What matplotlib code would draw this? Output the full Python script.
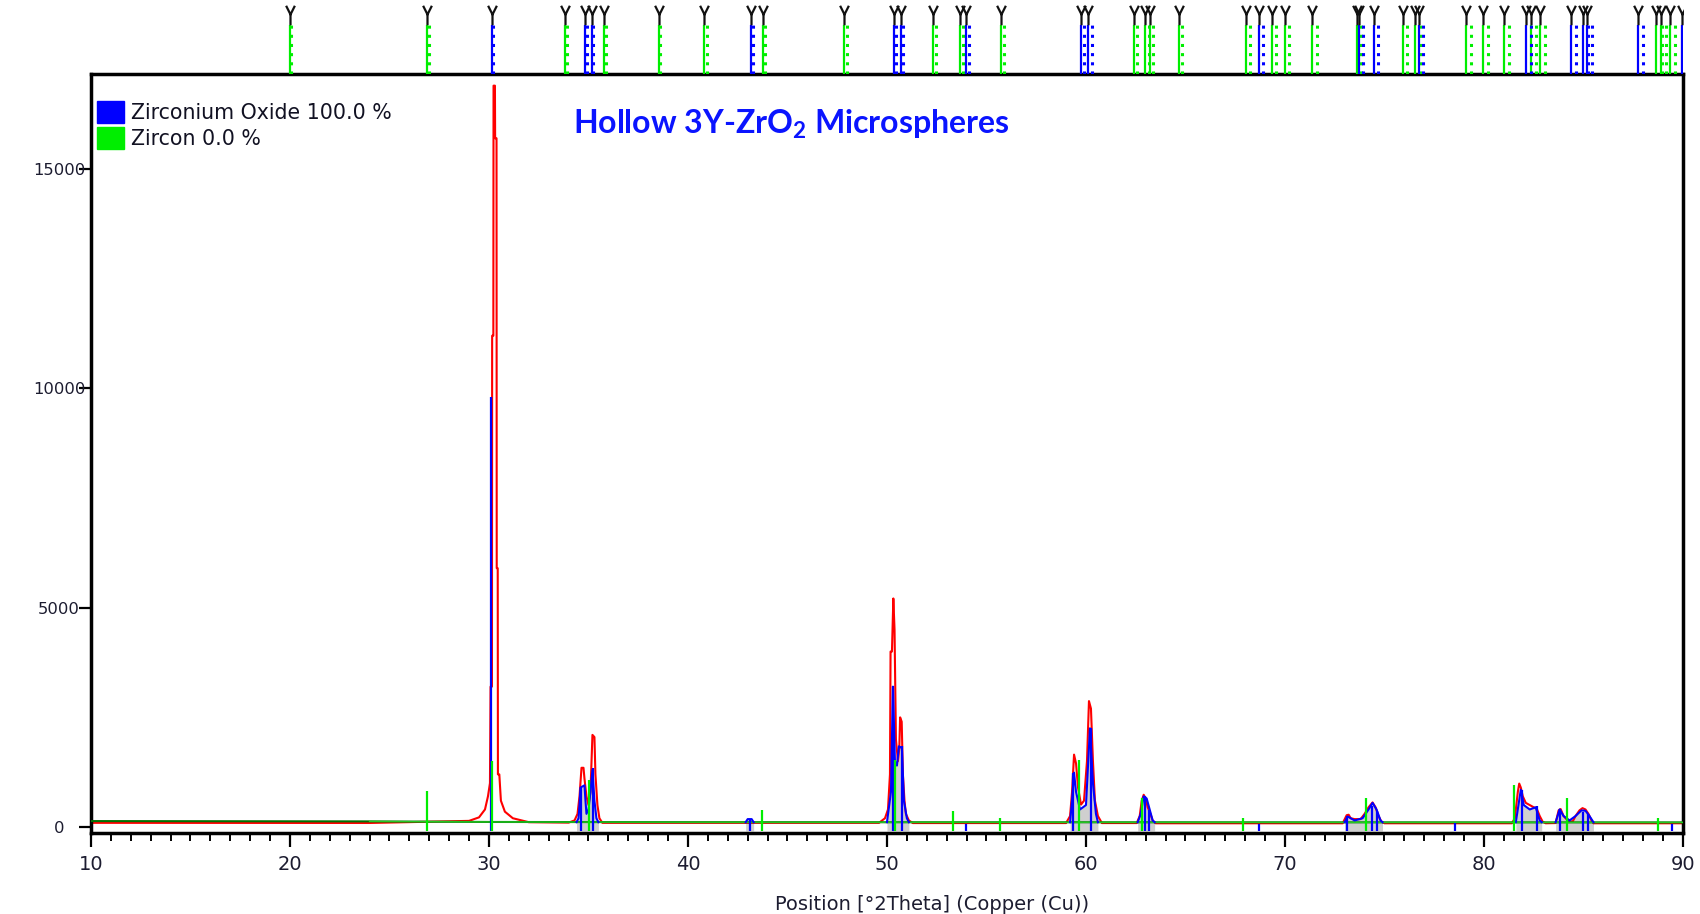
import numpy as np
import matplotlib
matplotlib.use("Agg")
import matplotlib.pyplot as plt
from matplotlib.path import Path
from matplotlib.ticker import MultipleLocator

plt.rcParams['mathtext.fontset'] = 'custom'
plt.rcParams['mathtext.rm'] = 'Lato'
plt.rcParams['mathtext.bf'] = 'Lato:bold'

# observed pattern (red), 2theta / counts
obs_tt = [10, 24, 29.0, 29.5, 29.8, 29.95, 30.05, 30.08, 30.15, 30.16, 30.22, 30.23, 30.3,
          30.31, 30.38, 30.39, 30.44, 30.45, 30.52, 30.6, 30.8, 31.2, 32, 34.0, 34.3, 34.45,
          34.55, 34.65, 34.75, 34.8, 34.9, 35.0, 35.1, 35.2, 35.3, 35.35, 35.45, 35.55, 35.7,
          49.6, 49.9, 50.05, 50.15, 50.18, 50.25, 50.32, 50.38, 50.45, 50.55, 50.62, 50.66,
          50.74, 50.8, 50.88, 50.95, 51.1, 51.3,
          59.0, 59.2, 59.3, 59.4, 59.5, 59.6, 59.75, 59.9, 60.05, 60.15, 60.25, 60.35, 60.45,
          60.6, 60.8,
          62.55, 62.7, 62.8, 62.9, 63.0, 63.1, 63.2, 63.35, 63.5,
          72.9, 73.1, 73.2, 73.3, 73.5, 73.8, 74.0, 74.2, 74.4, 74.55, 74.7, 74.85, 75.0,
          81.4, 81.55, 81.7, 81.77, 81.85, 81.95, 82.1, 82.3, 82.5, 82.65, 82.8, 82.95, 83.1,
          83.6, 83.75, 83.85, 84.0, 84.2, 84.45, 84.6, 84.8, 84.95, 85.1, 85.25, 85.4, 85.5, 90]
obs_cts = [95, 92, 140, 220, 400, 700, 1000, 3200, 3200, 11200, 11200, 16900, 16900,
           15700, 15700, 5900, 5900, 1200, 1200, 600, 350, 200, 110, 100, 150, 300,
           700, 1350, 1350, 1100, 700, 500, 800, 2100, 2050, 1200, 500, 200, 95,
           95, 200, 400, 1200, 4000, 4000, 5210, 4500, 2000, 1500, 1800, 2500,
           2400, 1200, 600, 300, 150, 90,
           90, 250, 800, 1650, 1450, 900, 510, 600, 1500, 2870, 2700, 1500, 600,
           250, 90,
           90, 250, 600, 735, 650, 450, 350, 150, 85,
           85, 270, 280, 200, 180, 180, 300, 450, 560, 450, 250, 120, 85,
           85, 200, 800, 990, 900, 700, 550, 500, 450, 420, 250, 120, 85,
           90, 380, 410, 250, 150, 120, 250, 380, 430, 400, 300, 150, 85, 85]

# background (green)
bg_tt = [10, 24, 30, 40, 90]
bg_cts = [135, 128, 115, 110, 105]

# calculated Zirconium Oxide profile clusters (blue outline)
calc_clusters = [
    ([34.4, 34.5, 34.55, 34.6, 34.8, 34.85, 34.9, 35.0, 35.1, 35.2, 35.3, 35.4, 35.5],
     [110, 200, 500, 900, 950, 600, 300, 400, 800, 1300, 600, 200, 110]),
    ([42.9, 43.0, 43.2, 43.3], [110, 180, 180, 110]),
    ([50.0, 50.2, 50.3, 50.4, 50.5, 50.6, 50.75, 50.85, 51.0, 51.1],
     [110, 800, 3200, 1500, 1400, 1840, 1800, 600, 200, 110]),
    ([59.2, 59.3, 59.4, 59.5, 59.7, 60.0, 60.2, 60.35, 60.5, 60.6],
     [110, 600, 1240, 800, 400, 500, 2250, 1000, 300, 110]),
    ([62.6, 62.75, 62.9, 63.05, 63.2, 63.35, 63.45], [110, 300, 700, 650, 400, 150, 110]),
    ([73.0, 73.15, 73.3, 73.5, 73.9, 74.2, 74.4, 74.6, 74.8, 74.9],
     [110, 240, 200, 150, 200, 400, 550, 400, 150, 110]),
    ([81.6, 81.85, 82.0, 82.3, 82.6, 82.8, 82.9], [110, 850, 500, 400, 450, 150, 110]),
    ([83.6, 83.8, 84.0, 84.3, 84.6, 84.9, 85.1, 85.3, 85.5],
     [110, 400, 250, 150, 250, 380, 370, 250, 110]),
]

# reference sticks in the pattern
zro2_tt = [30.11, 34.61, 35.24, 43.12, 50.32, 50.77, 53.95, 59.36, 60.24, 62.98, 63.18, 68.7,
           73.1, 74.36, 74.61, 78.54, 81.89, 82.65, 83.82, 84.95, 85.24, 89.43]
zro2_cts = [9800, 900, 1350, 180, 3220, 1840, 80, 1240, 2260, 700, 390, 60,
            240, 470, 370, 90, 850, 470, 400, 350, 300, 60]
zircon_tt = [26.91, 30.13, 35.02, 43.72, 50.42, 53.3, 55.7, 59.65, 62.8, 67.9, 74.06,
             81.52, 84.19, 88.76]
zircon_cts = [820, 1500, 1075, 380, 1530, 370, 200, 1530, 670, 200, 660, 950, 660, 200]

# peak markers above the plot
top_blue = [30.14, 34.83, 35.16, 43.15, 50.33, 50.68, 53.96, 59.74, 60.12, 68.69, 73.72,
            74.48, 76.72, 82.10, 84.39, 84.95, 85.18, 87.72, 89.94]
top_green = [19.99, 26.91, 33.84, 35.77, 38.52, 40.83, 43.77, 47.85, 52.31, 53.67, 55.72,
             62.41, 62.97, 63.20, 64.66, 68.06, 69.37, 69.99, 71.38, 73.62, 75.91, 76.54,
             79.12, 79.95, 81.03, 82.37, 82.82, 88.66, 88.89, 89.33]

BLUE, GREEN, RED = '#0000ff', '#00ee00', '#ff0000'
LBL = '#1c1c30'

fig = plt.figure(figsize=(17, 9.14), dpi=100)
ax = fig.add_axes([0.0535, 0.0886, 0.9365, 0.8304])
ax_top = fig.add_axes([0.0535, 0.9190, 0.9365, 0.0790], sharex=ax)

# grey fill under calculated profile
for xs, ys in calc_clusters:
    ax.fill_between(xs, -90, ys, color='#cfcfcf', lw=0, zorder=1)

ax.plot(obs_tt, obs_cts, color=RED, lw=1.5, zorder=2)
ax.plot(bg_tt, bg_cts, color='#007000', lw=1.5, zorder=3)
ax.plot(bg_tt[1:], bg_cts[1:], color='#33ee33', lw=1.0, alpha=0.7, zorder=3)
for xs, ys in calc_clusters:
    ax.plot(xs, ys, color=BLUE, lw=1.5, zorder=4)
ax.vlines(zro2_tt, -90, zro2_cts, color=BLUE, lw=1.6, zorder=5)
ax.vlines(zircon_tt, -90, zircon_cts, color=GREEN, lw=1.6, zorder=6)

ax.set_xlim(10, 90)
ax.set_ylim(-137, 17165)
ax.xaxis.set_major_locator(MultipleLocator(10))
ax.xaxis.set_minor_locator(MultipleLocator(1))
ax.set_yticks([0, 5000, 10000, 15000])
ax.tick_params(axis='x', which='major', length=10, width=1.6, pad=6,
               labelsize=14, labelcolor=LBL)
ax.tick_params(axis='x', which='minor', length=6, width=1.4)
ax.tick_params(axis='y', length=9, width=1.6, pad=14, labelsize=11.8, labelcolor=LBL)
for lab in ax.get_yticklabels():
    lab.set_horizontalalignment('center')
for sp in ax.spines.values():
    sp.set_linewidth(2.5)

# legend boxes
for i, (col, txt) in enumerate([(BLUE, 'Zirconium Oxide 100.0 %'), (GREEN, 'Zircon 0.0 %')]):
    y = 0.949 - i * 0.034
    ax.add_patch(plt.Rectangle((0.004, y - 0.014), 0.017, 0.029, transform=ax.transAxes,
                               color=col, zorder=7))
    ax.text(0.025, y, txt, transform=ax.transAxes, fontsize=14.8, va='center',
            color='#111122', zorder=7)

fig.text(791 / 1700, 1 - 124 / 914, r'Hollow 3Y-ZrO$_\mathbf{2}$ Microspheres',
         family='Lato', weight='bold', fontsize=23, color='#0a14ff',
         ha='center', va='center')
fig.text(932 / 1700, 1 - 904 / 914, 'Position [°2Theta] (Copper (Cu))',
         fontsize=14, color=LBL, ha='center', va='center')

# top marker strip
def kalpha2(tt):
    return np.asarray(tt) + np.degrees(2 * np.tan(np.radians(np.asarray(tt) / 2)) * 0.002486)

ymark = Path([(-0.45, 1.0), (0, 0.1), (0.45, 1.0), (0, 0.1), (0, -1.0)],
             [Path.MOVETO, Path.LINETO, Path.LINETO, Path.MOVETO, Path.LINETO])
for pos, col in [(top_green, GREEN), (top_blue, BLUE)]:
    ax_top.vlines(pos, 0, 0.68, color=col, lw=1.6)
    ax_top.vlines(kalpha2(pos), 0, 0.68, color=col, lw=2.2, linestyles=(0, (1, 2)))
    ax_top.plot(pos, [0.82] * len(pos), ls='none', marker=ymark, ms=14, mfc='none',
                mec='#111111', mew=1.6)
ax_top.set_ylim(0, 1)
ax_top.axis('off')

fig.savefig('out.png', dpi=100)
